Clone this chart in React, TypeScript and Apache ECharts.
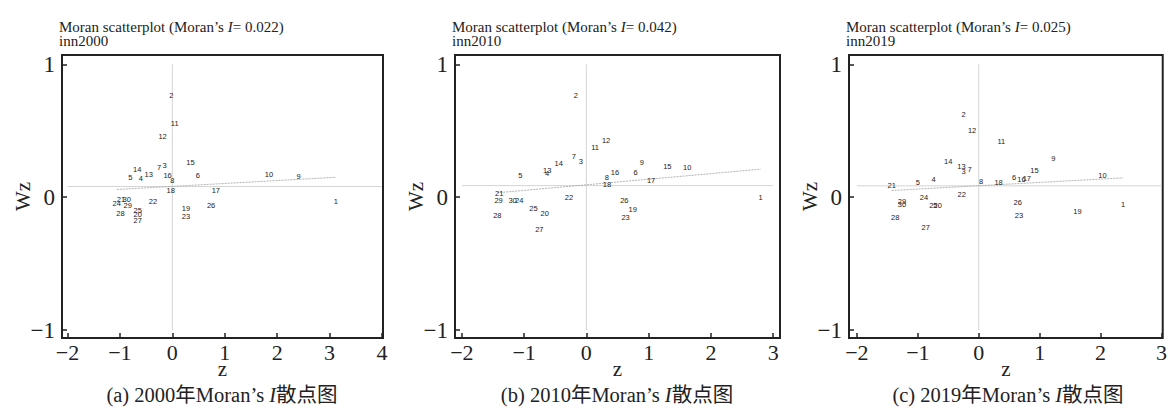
import React, { useEffect, useRef } from "react";
import * as echarts from "echarts";

// Region ids (labels of the points)
const regionIds = ["1","2","3","4","5","6","7","8","9","10","11","12","13","14","15","16","17","18","19","20","21","22","23","24","25","26","27","28","29","30"];

// 2000
const z2000 = [3.12,-0.02,-0.15,-0.6,-0.8,0.485,-0.255,0.0,2.41,1.845,0.045,-0.186,-0.45,-0.67,0.345,-0.09,0.83,-0.03,0.26,-0.66,-0.98,-0.37,0.26,-1.06,-0.66,0.74,-0.66,-0.99,-0.85,-0.87];
const wz2000 = [-0.03,0.765,0.24,0.143,0.15,0.163,0.221,0.125,0.156,0.168,0.552,0.459,0.173,0.208,0.261,0.163,0.05,0.05,-0.083,-0.13,-0.02,-0.03,-0.145,-0.045,-0.1,-0.062,-0.175,-0.125,-0.06,-0.02];

// 2010
const z2010 = [2.8,-0.17,-0.09,-0.63,-1.06,0.79,-0.2,0.33,0.89,1.62,0.14,0.317,-0.63,-0.445,1.3,0.46,1.04,0.33,0.745,-0.67,-1.4,-0.28,0.63,-1.08,-0.85,0.61,-0.755,-1.43,-1.41,-1.185];
const wz2010 = [0.0,0.765,0.268,0.176,0.163,0.183,0.306,0.146,0.263,0.221,0.376,0.426,0.2,0.251,0.231,0.183,0.125,0.095,-0.095,-0.12,0.025,0.0,-0.15,-0.025,-0.087,-0.025,-0.243,-0.138,-0.025,-0.025];

// 2019
const z2019 = [2.37,-0.25,-0.25,-0.74,-1.0,0.58,-0.15,0.04,1.225,2.03,0.37,-0.11,-0.285,-0.5,0.915,0.7,0.79,0.325,1.62,-0.675,-1.43,-0.28,0.66,-0.9,-0.745,0.64,-0.87,-1.37,-1.26,-1.26];
const wz2019 = [-0.055,0.622,0.195,0.131,0.108,0.146,0.206,0.118,0.289,0.165,0.421,0.501,0.233,0.271,0.2,0.133,0.138,0.11,-0.105,-0.062,0.088,0.018,-0.138,-0.005,-0.062,-0.038,-0.23,-0.155,-0.03,-0.055];

const years = ["2000", "2010", "2019"];
const captionLetters = ["(a)", "(b)", "(c)"];
const moranI = [0.022, 0.042, 0.025];
const intercepts = [0.081, 0.093, 0.086];
const meanWz = [0.08, 0.087, 0.085];
const xTicks1 = [-2, -1, 0, 1, 2, 3, 4];
const xTicks2 = [-2, -1, 0, 1, 2, 3];
const xTicks3 = [-2, -1, 0, 1, 2, 3];
const yTicks = [-1, 0, 1];

const zs = [z2000, z2010, z2019];
const wzs = [wz2000, wz2010, wz2019];
const xTicksAll = [xTicks1, xTicks2, xTicks3];

// layout (px)
const layout = [
  { left: 62, width: 321, xMin: -2.105, xMax: 4.02, center: 222 },
  { left: 455, width: 325, xMin: -2.11, xMax: 3.11, center: 617 },
  { left: 849, width: 318, xMin: -2.13, xMax: 3.02, center: 1008 },
];
const GRID_TOP = 55;
const GRID_H = 283;

const SERIF = "'Liberation Serif', 'Times New Roman', serif";
const CJK = "'Liberation Serif', 'Noto Sans CJK SC', serif";

const fmt = (v: number) => (v < 0 ? "\u2212" + Math.abs(v) : String(v));

export default function App() {
  const ref = useRef<HTMLDivElement>(null);
  useEffect(() => {
    document.body.style.margin = "0";
    if (!ref.current) return;
    const chart = echarts.init(ref.current, undefined, { renderer: "svg" });

    const titles = layout.map((p, i) => ({
      left: p.left - 3,
      top: 20,
      padding: 0,
      text: "Moran scatterplot (Moran\u2019s {i|I}= " + moranI[i].toFixed(3) + ")\ninn" + years[i],
      textStyle: {
        fontFamily: SERIF,
        fontSize: 15,
        fontWeight: "normal",
        color: "#222",
        lineHeight: 14,
        rich: {
          i: { fontFamily: SERIF, fontSize: 15, fontStyle: "italic", color: "#222", lineHeight: 14 },
        },
      },
    }));

    const grids = layout.map((p) => ({
      left: p.left,
      top: GRID_TOP,
      width: p.width,
      height: GRID_H,
      show: true,
      borderColor: "#222",
      borderWidth: 2,
      backgroundColor: "transparent",
    }));

    const xAxes = layout.map((p, i) => ({
      type: "value",
      gridIndex: i,
      min: p.xMin,
      max: p.xMax,
      splitLine: { show: false },
      axisLine: { show: false, onZero: false },
      axisTick: {
        show: true,
        inside: true,
        length: 5,
        customValues: xTicksAll[i],
        lineStyle: { color: "#222", width: 1.5 },
      },
      axisLabel: {
        customValues: xTicksAll[i],
        formatter: fmt,
        fontFamily: SERIF,
        fontSize: 22,
        color: "#222",
        margin: 3,
      },
      name: "z",
      nameLocation: "middle",
      nameGap: 20,
      nameMoveOverlap: false,
      nameTextStyle: { fontFamily: SERIF, fontSize: 21, color: "#222" },
    }));

    const yAxes = layout.map((p, i) => ({
      type: "value",
      gridIndex: i,
      min: -1.06,
      max: 1.07,
      splitLine: { show: false },
      axisLine: { show: false, onZero: false },
      axisTick: {
        show: true,
        inside: true,
        length: 5,
        customValues: yTicks,
        lineStyle: { color: "#222", width: 1.5 },
      },
      axisLabel: {
        customValues: yTicks,
        formatter: fmt,
        fontFamily: SERIF,
        fontSize: 23,
        color: "#222",
        margin: 7,
      },
      name: "Wz",
      nameLocation: "middle",
      nameGap: 29,
      nameRotate: 90,
      nameMoveOverlap: false,
      nameTextStyle: { fontFamily: SERIF, fontSize: 21, color: "#222" },
    }));

    const series: any[] = [];
    layout.forEach((p, i) => {
      const z = zs[i];
      const wz = wzs[i];
      const ticks = xTicksAll[i];
      const zMin = Math.min(...z);
      const zMax = Math.max(...z);
      series.push({
        type: "line",
        xAxisIndex: i,
        yAxisIndex: i,
        data: [
          [ticks[0], meanWz[i]],
          [ticks[ticks.length - 1], meanWz[i]],
        ],
        symbol: "none",
        silent: true,
        lineStyle: { color: "#d4d4d4", width: 1 },
        z: 1,
      });
      series.push({
        type: "line",
        xAxisIndex: i,
        yAxisIndex: i,
        data: [
          [0, yTicks[0]],
          [0, yTicks[yTicks.length - 1]],
        ],
        symbol: "none",
        silent: true,
        lineStyle: { color: "#d4d4d4", width: 1 },
        z: 1,
      });
      series.push({
        type: "line",
        xAxisIndex: i,
        yAxisIndex: i,
        data: [
          [zMin, intercepts[i] + moranI[i] * zMin],
          [zMax, intercepts[i] + moranI[i] * zMax],
        ],
        symbol: "none",
        silent: true,
        lineStyle: { color: "#a0a0a0", width: 0.8, type: [2, 1] },
        z: 2,
      });
      series.push({
        type: "scatter",
        xAxisIndex: i,
        yAxisIndex: i,
        symbol: "circle",
        symbolSize: 0,
        itemStyle: { color: "#222222", opacity: 1 },
        data: regionIds.map((id, k) => ({ name: id, value: [z[k], wz[k]] })),
        label: {
          show: true,
          position: ["50%", "50%"],
          align: "center",
          verticalAlign: "middle",
          formatter: "{b}",
          fontFamily: "'Liberation Sans', Arial, sans-serif",
          fontSize: 7.5,
          color: "#222222",
          textBorderWidth: 0,
        },
        labelLayout: { hideOverlap: false },
        z: 3,
      });
    });

    const graphics = layout.map((p, i) => ({
      type: "text",
      x: p.center,
      y: 395,
      style: {
        text: captionLetters[i] + " " + years[i] + "年Moran\u2019s {i|I}散点图",
        fontFamily: CJK,
        fontSize: 20.5,
        fill: "#222",
        align: "center",
        verticalAlign: "middle",
        rich: {
          i: { fontFamily: SERIF, fontSize: 20.5, fontStyle: "italic", fill: "#222" },
        },
      },
    }));

    chart.setOption({
      animation: false,
      title: titles,
      grid: grids,
      xAxis: xAxes,
      yAxis: yAxes,
      series,
      graphic: graphics,
    });
    return () => chart.dispose();
  }, []);
  return <div ref={ref} style={{ width: 1170, height: 409 }} />;
}
